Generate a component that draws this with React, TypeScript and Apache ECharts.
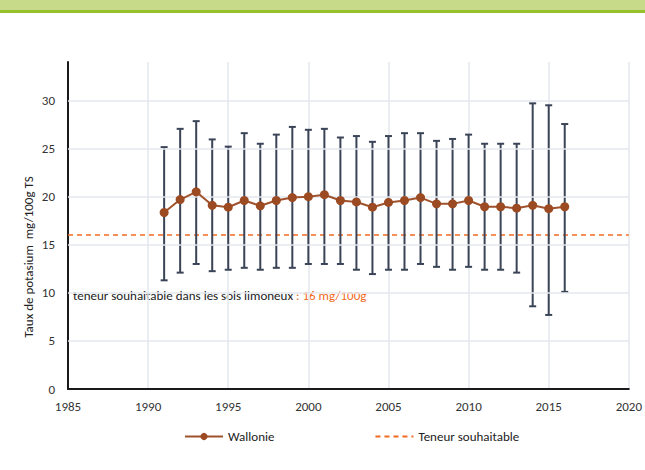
import React, { useEffect, useRef } from "react";
import * as echarts from "echarts";

const years = [1991, 1992, 1993, 1994, 1995, 1996, 1997, 1998, 1999, 2000, 2001, 2002, 2003, 2004, 2005, 2006, 2007, 2008, 2009, 2010, 2011, 2012, 2013, 2014, 2015, 2016];
const means = [18.35, 19.7, 20.5, 19.1, 18.9, 19.6, 19.05, 19.6, 19.9, 20.0, 20.2, 19.6, 19.45, 18.9, 19.4, 19.6, 19.9, 19.25, 19.25, 19.6, 18.95, 18.95, 18.8, 19.1, 18.75, 18.95];
const highs = [25.15, 27.05, 27.85, 25.95, 25.2, 26.6, 25.5, 26.45, 27.25, 26.95, 27.05, 26.15, 26.3, 25.7, 26.3, 26.6, 26.6, 25.8, 26.0, 26.45, 25.5, 25.5, 25.5, 29.7, 29.5, 27.55];
const lows = [11.3, 12.1, 13.0, 12.25, 12.4, 12.6, 12.4, 12.6, 12.6, 13.0, 13.0, 13.0, 12.4, 11.95, 12.4, 12.4, 13.0, 12.7, 12.4, 12.7, 12.4, 12.4, 12.1, 8.6, 7.7, 10.1];
const threshold = 16;
const xRange = [1985, 2020];
const yGridValues = [5, 10, 15, 20, 25, 30];
const seriesNames = ["Wallonie", "Teneur souhaitable"];
const yAxisTitle = "Taux de potasium  mg/100g TS";
const noteMain = "teneur souhaitable dans les sols limoneux ";
const noteValue = ": 16 mg/100g";

const FONT = "Carlito, 'Liberation Sans', Arial, sans-serif";

export default function App() {
  const ref = useRef<HTMLDivElement>(null);
  useEffect(() => {
    if (!ref.current) return;
    const chart = echarts.init(ref.current, null, { renderer: "svg" });
    const option: any = {
      animation: false,
      backgroundColor: "#ffffff",
      textStyle: { fontFamily: FONT },
      grid: { left: 68, right: 11, top: 62, bottom: 81, containLabel: false },
      xAxis: {
        type: "value",
        min: xRange[0],
        max: xRange[1],
        interval: 5,
        axisLine: { show: true, lineStyle: { color: "#1a1a1a", width: 2 } },
        axisTick: { show: false },
        axisLabel: {
          color: "#333",
          fontSize: 13,
          fontFamily: FONT,
          margin: 11,
          formatter: (v: number) => String(v),
        },
        splitLine: { show: true, lineStyle: { color: "#e3e7ee", width: 1.5 } },
      },
      yAxis: {
        type: "value",
        min: 0,
        max: 34,
        interval: 5,
        axisLine: { show: true, lineStyle: { color: "#1a1a1a", width: 2 } },
        axisTick: { show: false },
        axisLabel: {
          color: "#333",
          fontSize: 13,
          fontFamily: FONT,
          margin: 13,
          formatter: (v: number) => (v % 5 === 0 ? String(v) : ""),
        },
        splitLine: { show: false },
      },
      legend: {
        data: [
          { name: seriesNames[0] },
          { name: seriesNames[1], itemStyle: { opacity: 0 } },
        ],
        top: 430,
        left: 184,
        padding: 0,
        itemGap: 100,
        itemWidth: 38,
        itemHeight: 9,
        textStyle: { color: "#222", fontSize: 13, fontFamily: FONT },
      },
      graphic: [
        { type: "rect", shape: { x: 0, y: 0, width: 645, height: 10 }, style: { fill: "#c7da89" } },
        { type: "rect", shape: { x: 0, y: 10, width: 645, height: 3 }, style: { fill: "#97c02d" } },
        {
          type: "text",
          x: 28,
          y: 257,
          rotation: Math.PI / 2,
          style: {
            text: yAxisTitle,
            fill: "#222",
            font: `13px ${FONT}`,
            align: "center",
            verticalAlign: "middle",
          },
        },
        {
          type: "text",
          x: 73,
          y: 295,
          style: {
            text: `{a|${noteMain}}{b|${noteValue}}`,
            verticalAlign: "middle",
            rich: {
              a: { fill: "#222", fontSize: 13, fontFamily: FONT },
              b: { fill: "#f26b21", fontSize: 13, fontFamily: FONT },
            },
          },
        },
      ],
      series: [
        {
          name: "gridH",
          type: "line",
          data: [],
          silent: true,
          z: 0,
          markLine: {
            silent: true,
            symbol: "none",
            label: { show: false },
            lineStyle: { color: "#e3e7ee", width: 1.5, type: "solid" },
            data: yGridValues.map((v) => ({ yAxis: v })),
          },
        },
        {
          name: seriesNames[1],
          type: "line",
          data: xRange.map((x) => [x, threshold]),
          showSymbol: false,
          symbol: "none",
          z: 3,
          lineStyle: { color: "#f26b21", width: 1.5, type: [5, 4] },
          itemStyle: { color: "#f26b21" },
        },
        {
          name: "errors",
          type: "custom",
          z: 4,
          data: years.map((y, i) => [y, lows[i], highs[i]]),
          renderItem: (params: any, api: any) => {
            const x = api.value(0);
            const pLo = api.coord([x, api.value(1)]);
            const pHi = api.coord([x, api.value(2)]);
            const cap = 3.5;
            const style = { stroke: "#3a4456", lineWidth: 2 };
            return {
              type: "group",
              children: [
                { type: "line", shape: { x1: pLo[0], y1: pLo[1], x2: pHi[0], y2: pHi[1] }, style },
                { type: "line", shape: { x1: pLo[0] - cap, y1: pLo[1], x2: pLo[0] + cap, y2: pLo[1] }, style },
                { type: "line", shape: { x1: pHi[0] - cap, y1: pHi[1], x2: pHi[0] + cap, y2: pHi[1] }, style },
              ],
            };
          },
        },
        {
          name: seriesNames[0],
          type: "line",
          z: 5,
          data: years.map((y, i) => [y, means[i]]),
          symbol: "circle",
          symbolSize: 9,
          lineStyle: { color: "#a0522d", width: 2 },
          itemStyle: { color: "#9c4a22" },
        },
      ],
    };
    chart.setOption(option);
    return () => chart.dispose();
  }, []);
  return (
    <div
      ref={ref}
      style={{ position: "fixed", left: 0, top: 0, width: 645, height: 470 }}
    />
  );
}
